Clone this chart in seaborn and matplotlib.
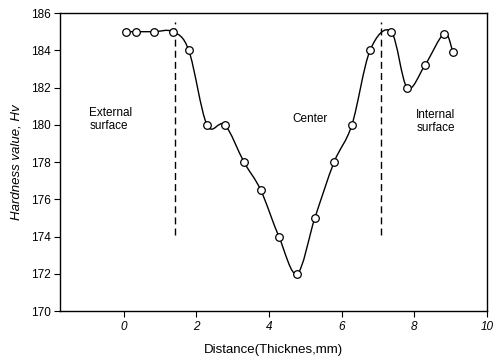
import numpy as np
import pandas as pd
import seaborn as sns
import matplotlib.pyplot as plt
from matplotlib.path import Path
from matplotlib.patches import PathPatch

# hardness profile across the thickness
distance = [0.05, 0.33, 0.83, 1.35, 1.79, 2.29, 2.78, 3.31, 3.77, 4.27, 4.77,
            5.26, 5.79, 6.28, 6.78, 7.36, 7.80, 8.29, 8.82, 9.06]
hardness = [185, 185, 185, 185, 184, 180, 180, 178, 176.5, 174, 172,
            175, 178, 180, 184, 185, 182, 183.2, 184.9, 183.9]
boundaries = [1.42, 7.08]
regions = ["External\nsurface", "Center", "Internal\nsurface"]
region_x = [-0.95, 4.65, 8.05]
region_y = [180.3, 180.3, 180.2]

df = pd.DataFrame({"Distance": distance, "Hardness": hardness})

sns.set_style("ticks")
plt.rcParams['font.family'] = ['Liberation Sans', 'DejaVu Sans']
plt.rcParams['text.color'] = 'black'
plt.rcParams['axes.labelcolor'] = 'black'
plt.rcParams['xtick.color'] = 'black'
plt.rcParams['ytick.color'] = 'black'

fig = plt.figure(figsize=(4.93, 3.63), dpi=100)
ax = fig.add_axes([0.122, 0.143, 0.866, 0.821])

# smooth curve through the points (Catmull-Rom as cubic Bezier segments)
pts = df[["Distance", "Hardness"]].to_numpy()
ext = np.vstack([pts[0], pts, pts[-1]])
verts = [tuple(pts[0])]
codes = [Path.MOVETO]
for i in range(1, len(ext) - 2):
    p0, p1, p2, p3 = ext[i - 1], ext[i], ext[i + 1], ext[i + 2]
    c1 = p1 + (p2 - p0) / 6
    c2 = p2 - (p3 - p1) / 6
    verts += [tuple(c1), tuple(c2), tuple(p2)]
    codes += [Path.CURVE4] * 3
ax.add_patch(PathPatch(Path(verts, codes), facecolor="none", edgecolor="black", lw=1.0, zorder=2))

sns.scatterplot(data=df, x="Distance", y="Hardness", ax=ax, marker="o", s=30,
                facecolor="white", edgecolor="black", linewidth=0.9, zorder=3, legend=False)

for b in boundaries:
    ax.vlines(b, 174.1, 185.5, colors="black", linestyles=(0, (5, 3)), lw=1.0)

for t, xx, yy in zip(regions, region_x, region_y):
    ax.text(xx, yy, t, fontsize=8.5, ha="left", va="center", linespacing=1.1)

ax.set_xlim(-1.75, 10)
ax.set_ylim(170, 186)
ax.set_xticks([0, 2, 4, 6, 8, 10])
ax.set_yticks(range(170, 187, 2))
ax.set_xticklabels(["0", "2", "4", "6", "8", "10"], fontstyle="italic", fontsize=8.5)
ax.set_yticklabels([str(v) for v in range(170, 187, 2)], fontsize=8.5)
ax.tick_params(length=4, width=0.8, pad=3, color="black")
for s in ax.spines.values():
    s.set_color("black")
    s.set_linewidth(1.0)

ax.set_xlabel("Distance(Thicknes,mm)", fontsize=9.5, labelpad=8)
ax.set_ylabel("Hardness value, Hv", fontsize=9.5, fontstyle="italic", labelpad=6)

fig.savefig("out.png", dpi=100)
